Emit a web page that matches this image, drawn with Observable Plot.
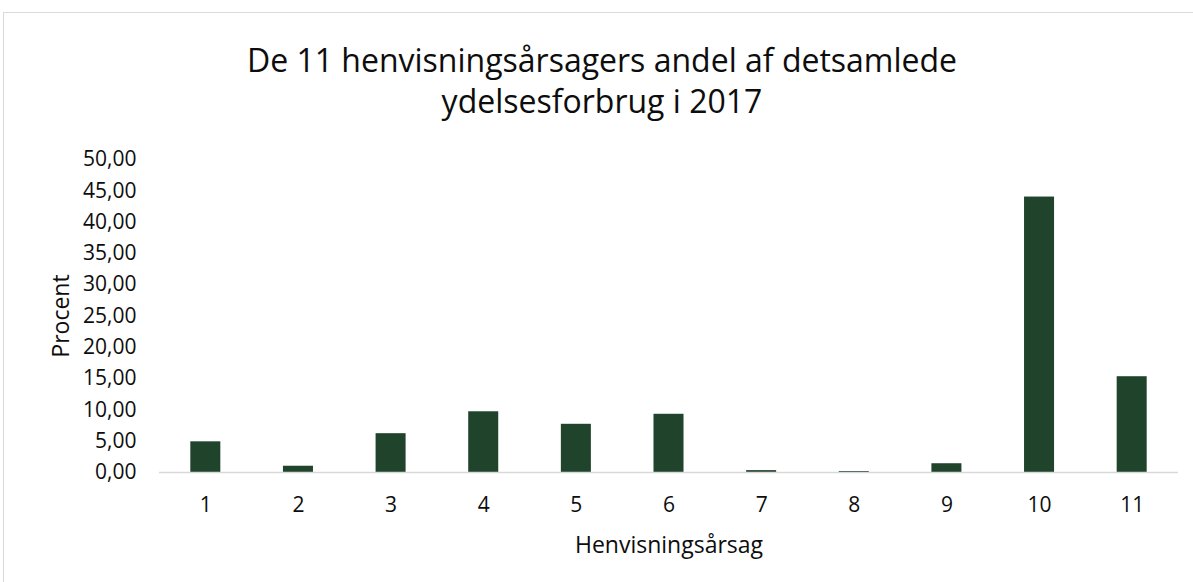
<!DOCTYPE html>
<html>
<head>
<meta charset="utf-8">
<script src="https://cdn.jsdelivr.net/npm/d3@7"></script>
<script src="https://cdn.jsdelivr.net/npm/@observablehq/plot@0.6"></script>
<style>
  html, body { margin: 0; padding: 0; background: #fff; }
  #wrap { position: relative; width: 1193px; height: 582px; overflow: hidden; background: #fff; }
  #frame { position: absolute; left: 3px; top: 12px; width: 1220px; height: 620px; border: 1.5px solid #d9d9d9; box-sizing: border-box; }
  #title { position: absolute; left: 0; top: 0; width: 1204px; text-align: center; font-family: "Open Sans", sans-serif; font-size: 32px; line-height: 41px; color: #0d0d0d; padding-top: 39px; }
  #chart { position: absolute; left: 0; top: 130px; }
</style>
</head>
<body>
<div id="wrap">
  <div id="frame"></div>
  <div id="title">De 11 henvisningsårsagers andel af detsamlede<br>ydelsesforbrug i 2017</div>
  <div id="chart"></div>
</div>
<script>
const categories = ["1", "2", "3", "4", "5", "6", "7", "8", "9", "10", "11"];
const values = [4.9, 1.0, 6.2, 9.7, 7.7, 9.3, 0.3, 0.15, 1.4, 44.0, 15.3];
const yTicks = [0, 5, 10, 15, 20, 25, 30, 35, 40, 45, 50];

const data = categories.map((c, i) => ({cat: c, value: values[i]}));
const fmt = d => d.toFixed(2).replace(".", ",");

const plot = Plot.plot({
  width: 1193,
  height: 452,
  marginTop: 29,
  marginBottom: 110,
  marginLeft: 159,
  marginRight: 15,
  style: {fontFamily: "Open Sans, sans-serif", fontSize: "21px", color: "#0d0d0d", background: "transparent"},
  x: {domain: categories, paddingInner: 0.676, paddingOuter: 0.338, round: false},
  y: {domain: [0, 50]},
  marks: [
    Plot.barY(data, {x: "cat", y: "value", fill: "#1f432b"}),
    Plot.ruleY([0], {stroke: "#d9d9d9", strokeWidth: 1.5}),
    Plot.axisY(yTicks, {tickFormat: fmt, tickSize: 0, tickPadding: 23, label: null, fontSize: 21}),
    Plot.axisY([], {label: "Procent", labelAnchor: "center", labelArrow: "none", labelOffset: 107, fontSize: 23}),
    Plot.axisX({tickSize: 0, tickPadding: 25, label: null, fontSize: 21}),
    Plot.axisX([], {label: "Henvisningsårsag", labelAnchor: "center", labelArrow: "none", labelOffset: 80, fontSize: 23})
  ]
});
document.getElementById("chart").appendChild(plot);
</script>
</body>
</html>
